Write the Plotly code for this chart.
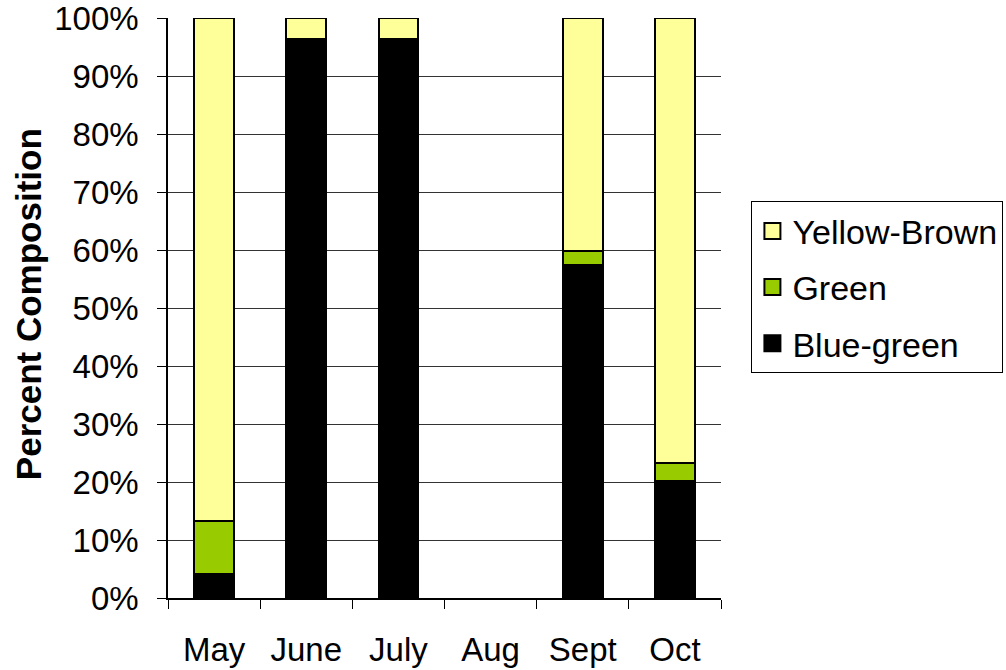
import plotly.graph_objects as go

months = ["May", "June", "July", "Aug", "Sept", "Oct"]
blue_green = [4.1, 96.4, 96.4, None, 57.4, 20.2]
green = [9.2, 0.0, 0.0, None, 2.5, 3.0]
yellow_brown = [86.7, 3.6, 3.6, None, 40.1, 76.8]
y_ticks = list(range(0, 101, 10))
y_tick_text = [f"{v}%" for v in y_ticks]

FONT = "Liberation Sans, Arial, sans-serif"
TICK_SIZE = 33

# stacking order bottom→top, with the legend listing the top layer first
series = [
    ("Blue-green", blue_green, "#000000", 3),
    ("Green", green, "#99CC00", 2),
    ("Yellow-Brown", yellow_brown, "#FFFF99", 1),
]

fig = go.Figure()
for name, vals, color, rank in series:
    fig.add_trace(go.Bar(
        x=months, y=vals, name=name, legendgroup=name, showlegend=False,
        marker=dict(color=color, line=dict(color="#000000", width=2)),
        width=0.43,
    ))
    # square swatch used as the legend key for this series
    fig.add_trace(go.Scatter(
        x=[None], y=[None], mode="markers", name=name, legendgroup=name,
        legendrank=rank,
        marker=dict(symbol="square", size=16, color=color,
                    line=dict(color="#000000", width=2)),
    ))

fig.update_layout(
    barmode="stack",
    width=1006, height=670,
    margin=dict(l=168, r=285, t=18, b=72, autoexpand=False),
    plot_bgcolor="white", paper_bgcolor="white",
    font=dict(family=FONT, size=TICK_SIZE, color="black"),
    showlegend=True,
    legend=dict(
        x=1.055, y=0.684, xanchor="left", yanchor="top",
        traceorder="grouped", tracegroupgap=9,
        bordercolor="black", borderwidth=1, bgcolor="white",
        font=dict(family=FONT, size=34),
    ),
)

# vertical y-axis title placed beside the tick labels
fig.add_annotation(
    text="<b>Percent Composition</b>", textangle=-90,
    xref="paper", yref="paper", x=-0.252, y=0.506,
    xanchor="center", yanchor="middle", showarrow=False,
    font=dict(family=FONT, size=35, color="black"),
)

fig.update_xaxes(
    type="category", categoryorder="array", categoryarray=months,
    showline=True, linecolor="black", linewidth=1.5,
    ticks="outside", tickson="boundaries", ticklen=9, tickcolor="black",
    ticklabelstandoff=22, showgrid=False, automargin=False,
    ticklabeloverflow="allow",
    tickfont=dict(family=FONT, size=TICK_SIZE),
)
fig.update_yaxes(
    range=[0, 100], tickvals=y_ticks, ticktext=y_tick_text,
    showline=True, linecolor="black", linewidth=1.5,
    ticks="outside", ticklen=9, tickcolor="black",
    ticklabelstandoff=12, automargin=False,
    ticklabeloverflow="allow",
    showgrid=True, gridcolor="#333333", gridwidth=1,
    zeroline=False,
    tickfont=dict(family=FONT, size=TICK_SIZE),
)

fig.write_html("out.html")
